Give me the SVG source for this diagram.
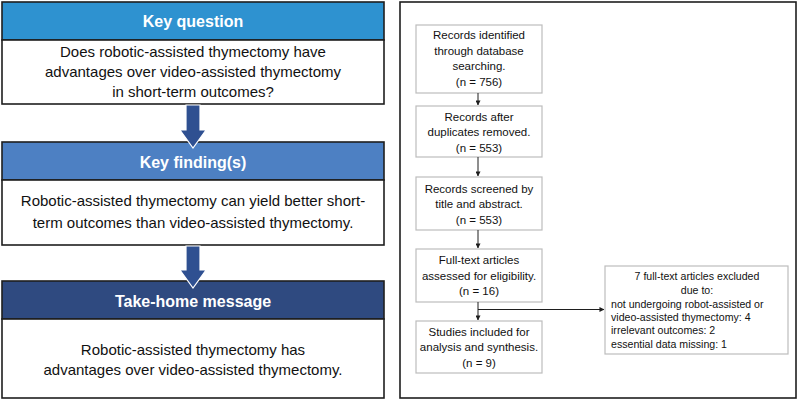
<svg xmlns="http://www.w3.org/2000/svg" width="800" height="401" viewBox="0 0 800 401">
<style>
text{font-family:"Liberation Sans",Arial,sans-serif;}
.panel{fill:#fff;stroke:#1e1e1e;stroke-width:1.6;}
.hd{stroke:#1e1e1e;stroke-width:1.6;}
.ht{fill:#fff;font-size:16px;font-weight:bold;text-anchor:middle;}
.bt{fill:#111;font-size:15px;text-anchor:middle;}
.box{fill:#fff;stroke:#bdbdbd;stroke-width:1.2;}
.ft{fill:#111;font-size:11.5px;text-anchor:middle;}
.et{fill:#111;font-size:10.6px;}
.blk{fill:#2f5091;stroke:#fff;stroke-width:1.2;}
.ln{stroke:#1e1e1e;stroke-width:1;fill:none;marker-end:url(#ah);}
</style>
<defs>
<marker id="ah" viewBox="0 0 6 6" refX="5.5" refY="3" markerWidth="5" markerHeight="5" markerUnits="userSpaceOnUse" orient="auto">
<path d="M0,0 L6,3 L0,6 z" fill="#1e1e1e"/>
</marker>
</defs>
<rect x="0" y="0" width="800" height="401" fill="#fff"/>

<g id="key-question">
<rect class="hd" x="2" y="2" width="382" height="38" fill="#2e92d0"/>
<text class="ht" x="193" y="27">Key question</text>
<rect class="panel" x="2" y="40" width="382" height="64"/>
<text class="bt" x="193" y="57">Does robotic-assisted thymectomy have</text>
<text class="bt" x="193" y="77">advantages over video-assisted thymectomy</text>
<text class="bt" x="193" y="97">in short-term outcomes?</text>
</g>

<g id="key-finding">
<rect class="hd" x="2" y="142" width="382" height="38" fill="#4d80c3"/>
<text class="ht" x="193" y="168">Key finding(s)</text>
<rect class="panel" x="2" y="180" width="382" height="65"/>
<text class="bt" x="193" y="206">Robotic-assisted thymectomy can yield better short-</text>
<text class="bt" x="193" y="228">term outcomes than video-assisted thymectomy.</text>
</g>

<g id="take-home">
<rect class="hd" x="2" y="281" width="382" height="38" fill="#2f4a80"/>
<text class="ht" x="193" y="307">Take-home message</text>
<rect class="panel" x="2" y="319" width="382" height="79"/>
<text class="bt" x="193" y="355">Robotic-assisted thymectomy has</text>
<text class="bt" x="193" y="375">advantages over video-assisted thymectomy.</text>
</g>

<g id="big-arrows">
<polygon class="blk" points="186,105 200,105 200,130 206,130 193,148 180,130 186,130"/>
<polygon class="blk" points="186,246 200,246 200,270 206,270 193,288 180,270 186,270"/>
</g>

<rect id="flow-panel" class="panel" x="400" y="2" width="396" height="396"/>

<g id="identified">
<rect class="box" x="416" y="25" width="126" height="68"/>
<text class="ft" x="479" y="39">Records identified</text>
<text class="ft" x="479" y="55">through database</text>
<text class="ft" x="479" y="70">searching.</text>
<text class="ft" x="479" y="86">(n = 756)</text>
</g>

<g id="deduplicated">
<rect class="box" x="416" y="106" width="126" height="51"/>
<text class="ft" x="479" y="121">Records after</text>
<text class="ft" x="479" y="136">duplicates removed.</text>
<text class="ft" x="479" y="152">(n = 553)</text>
</g>

<g id="screened">
<rect class="box" x="416" y="177" width="126" height="53"/>
<text class="ft" x="479" y="193">Records screened by</text>
<text class="ft" x="479" y="208">title and abstract.</text>
<text class="ft" x="479" y="224">(n = 553)</text>
</g>

<g id="full-text">
<rect class="box" x="416" y="249" width="126" height="53"/>
<text class="ft" x="479" y="264">Full-text articles</text>
<text class="ft" x="479" y="280">assessed for eligibility.</text>
<text class="ft" x="479" y="295">(n = 16)</text>
</g>

<g id="included">
<rect class="box" x="416" y="321" width="126" height="52"/>
<text class="ft" x="479" y="336">Studies included for</text>
<text class="ft" x="479" y="351">analysis and synthesis.</text>
<text class="ft" x="479" y="367">(n = 9)</text>
</g>

<g id="excluded">
<rect class="box" x="605" y="266" width="183" height="88"/>
<text class="et" x="697" y="280" text-anchor="middle">7 full-text articles excluded</text>
<text class="et" x="697" y="294" text-anchor="middle">due to:</text>
<text class="et" x="611" y="308">not undergoing robot-assisted or</text>
<text class="et" x="611" y="321">video-assisted thymectomy: 4</text>
<text class="et" x="611" y="334">irrelevant outcomes: 2</text>
<text class="et" x="611" y="348">essential data missing: 1</text>
</g>

<g id="connectors">
<line class="ln" x1="478" y1="93" x2="478" y2="105"/>
<line class="ln" x1="478" y1="157" x2="478" y2="176"/>
<line class="ln" x1="478" y1="230" x2="478" y2="248"/>
<line class="ln" x1="478" y1="302" x2="478" y2="320"/>
<line class="ln" x1="478" y1="309.5" x2="604" y2="309.5"/>
</g>
</svg>
